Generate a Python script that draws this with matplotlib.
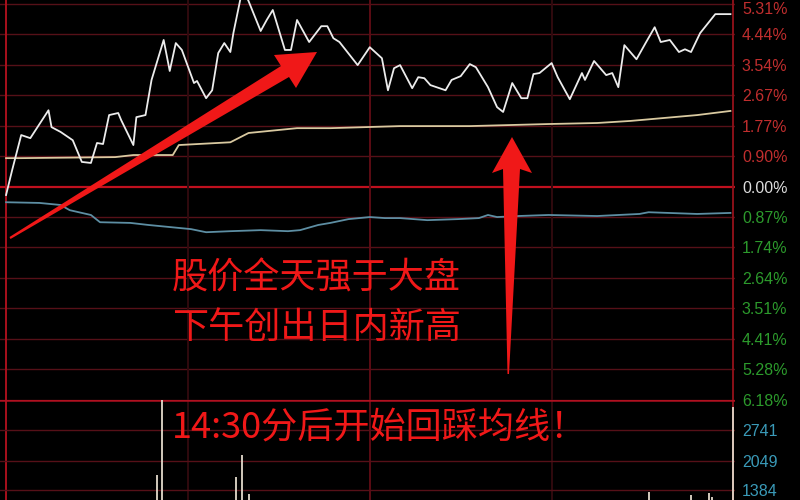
import matplotlib
matplotlib.use("Agg")
import matplotlib.pyplot as plt
import matplotlib.transforms as mtransforms
from matplotlib.patches import Polygon

plt.rcParams['font.family'] = ['Noto Sans CJK SC', 'DejaVu Sans']

# --- data (minutes after 9:30, % change) ---
price_min = [0, 2, 5, 8, 14, 15, 18, 22, 25, 28, 30, 32, 34, 37, 38, 42, 43, 46, 48, 52,
             54, 56, 58, 62, 63, 66, 68, 70, 72, 74, 75, 78, 80, 84, 86, 88, 92, 94, 96, 100,
             104, 106, 108, 110, 116, 120, 124, 126, 128, 130, 134, 136, 138, 140, 145, 147, 150, 153, 155, 159,
             162, 164, 167, 170, 172, 174, 176, 180, 182, 186, 190, 191, 194, 198, 200, 202, 204, 208, 211, 214,
             216, 219, 222, 224, 226, 229, 234, 239]
price_pct = [-0.23, 0.49, 1.51, 1.42, 2.23, 1.74, 1.60, 1.36, 0.73, 0.70, 1.28, 1.25, 2.09, 2.15, 1.94, 1.22, 2.03, 2.09, 3.11, 4.27,
             3.37, 4.18, 3.98, 3.02, 3.08, 2.58, 2.81, 3.89, 4.18, 3.92, 4.47, 5.75, 5.40, 4.53, 4.85, 5.14, 3.98, 3.98, 4.85, 4.21,
             4.67, 4.67, 4.32, 4.21, 3.54, 4.06, 3.74, 2.81, 3.45, 3.54, 2.87, 3.19, 3.16, 2.96, 2.81, 3.11, 3.22, 3.57, 3.48, 2.90,
             2.32, 2.18, 3.02, 2.58, 2.58, 3.28, 3.31, 3.60, 3.19, 2.55, 3.31, 3.11, 3.66, 3.25, 3.31, 2.90, 4.12, 3.71, 4.18, 4.64,
             4.21, 4.27, 3.92, 4.00, 3.92, 4.47, 5.02, 5.02]

avg_min = [0, 5, 36, 42, 55, 57, 74, 80, 96, 107, 130, 153, 179, 195, 206, 228, 239]
avg_pct = [0.84, 0.84, 0.87, 0.93, 0.93, 1.22, 1.30, 1.57, 1.71, 1.71, 1.77, 1.77, 1.83, 1.86, 1.92, 2.09, 2.21]

index_min = [0, 11, 18, 21, 28, 31, 41, 47, 54, 61, 66, 74, 84, 93, 97, 103, 107, 113, 120, 125,
             130, 139, 149, 156, 159, 162, 169, 179, 195, 209, 212, 228, 239]
index_pct = [-0.44, -0.46, -0.52, -0.67, -0.81, -1.02, -1.04, -1.10, -1.16, -1.22, -1.31, -1.28, -1.25, -1.28, -1.25, -1.10, -1.04, -0.93, -0.87, -0.90,
             -0.90, -0.96, -0.93, -0.90, -0.81, -0.87, -0.84, -0.81, -0.84, -0.78, -0.73, -0.78, -0.75]

vol_min = [49.7, 51.3, 76, 78, 80, 212, 226, 232, 233, 240]
vol_val = [1724, 3700, 1679, 2176, 1294, 1340, 1270, 1317, 1227, 3261]

pct_ticks = [5.31, 4.44, 3.54, 2.67, 1.77, 0.90, 0.0, -0.87, -1.74, -2.64, -3.51, -4.41, -5.28, -6.18]
pct_labels = ["5.31%", "4.44%", "3.54%", "2.67%", "1.77%", "0.90%", "0.00%",
              "0.87%", "1.74%", "2.64%", "3.51%", "4.41%", "5.28%", "6.18%"]
vol_ticks = [2741, 2049, 1384]
hour_lines = [0, 60, 120, 180, 240]

BG = "black"
GRID = "#561018"
UP, DOWN, FLAT, VOLC = "#c02e2e", "#2c9a2c", "#dcdcdc", "#3a9ab8"
TICKFONT = ["Liberation Sans", "DejaVu Sans"]

fig = plt.figure(figsize=(8, 5), dpi=100, facecolor=BG)
ax = fig.add_axes([0, 0.2, 735 / 800, 0.8], facecolor=BG)
axv = fig.add_axes([0, 0.0, 735 / 800, 0.2], facecolor=BG, sharex=ax)

# price pane
for v in pct_ticks:
    if v == 0:
        ax.axhline(v, color="#c0101e", lw=1.6, zorder=1)
    else:
        ax.axhline(v, color=GRID, lw=1.0, zorder=1)
vcols = ["#a8101c", "#300a0e", "#5c0c14", "#300a0e", "#8a1018"]
for m, c in zip(hour_lines, vcols):
    ax.axvline(m, color=c, lw=1.4, zorder=1)
    axv.axvline(m, color=c, lw=1.4, zorder=1)

ax.plot(avg_min, avg_pct, color="#d9c9a0", lw=1.3, zorder=3)
ax.plot(index_min, index_pct, color="#5d8ea3", lw=1.3, zorder=3)
ax.plot(price_min, price_pct, color="#ececec", lw=1.3, zorder=4)

ax.set_xlim(-2, 240.5)
ax.set_ylim(-6.18, 5.43)
ax.yaxis.tick_right()
ax.set_yticks(pct_ticks)
ax.set_yticklabels(pct_labels, family=TICKFONT)
labels = ax.get_yticklabels()
for lab, v in zip(labels, pct_ticks):
    lab.set_color(UP if v > 0 else (FLAT if v == 0 else DOWN))
ax.tick_params(axis="y", length=0, pad=5, labelsize=11.5)
ax.tick_params(axis="x", length=0, labelbottom=False)
# nudge the top label down a touch so it stays inside the picture
top_shift = mtransforms.ScaledTranslation(0, -3 / 72, fig.dpi_scale_trans)
labels[0].set_transform(labels[0].get_transform() + top_shift)
for s in ax.spines.values():
    s.set_visible(False)

# volume pane
for v in vol_ticks:
    axv.axhline(v, color=GRID, lw=1.0, zorder=1)
axv.axhline(3419, color="#b01020", lw=1.8, zorder=1)
axv.vlines(vol_min, 0, vol_val, color="#e2dacb", lw=1.3, zorder=3)
axv.set_ylim(1158, 3419)
axv.yaxis.tick_right()
axv.set_yticks(vol_ticks)
axv.set_yticklabels([str(v) for v in vol_ticks], color=VOLC, family=TICKFONT)
axv.tick_params(axis="y", length=0, pad=5, labelsize=11.5)
axv.tick_params(axis="x", length=0, labelbottom=False)
for s in axv.spines.values():
    s.set_visible(False)

# annotation overlay in pixel coordinates
ann = fig.add_axes([0, 0, 1, 1])
ann.set_xlim(0, 800)
ann.set_ylim(500, 0)
ann.axis("off")
ann.patch.set_alpha(0)

RED = "#f01818"
ann.add_patch(Polygon([(9.5, 237), (281, 66), (274, 55), (317, 52), (296, 88), (289, 77), (10.5, 239)],
                      closed=True, color=RED, lw=0))
ann.add_patch(Polygon([(507.5, 374), (503, 169), (492, 173), (512, 137), (532, 173), (520, 169), (509, 374)],
                      closed=True, color=RED, lw=0))

ann.text(172, 278, "股价全天强于大盘", color=RED, fontsize=26, va="center", ha="left")
ann.text(172, 328, "下午创出日内新高", color=RED, fontsize=26, va="center", ha="left")
ann.text(172, 428, "14:30分后开始回踩均线！", color=RED, fontsize=26, va="center", ha="left")

fig.savefig("out.png", dpi=100, facecolor=BG)
